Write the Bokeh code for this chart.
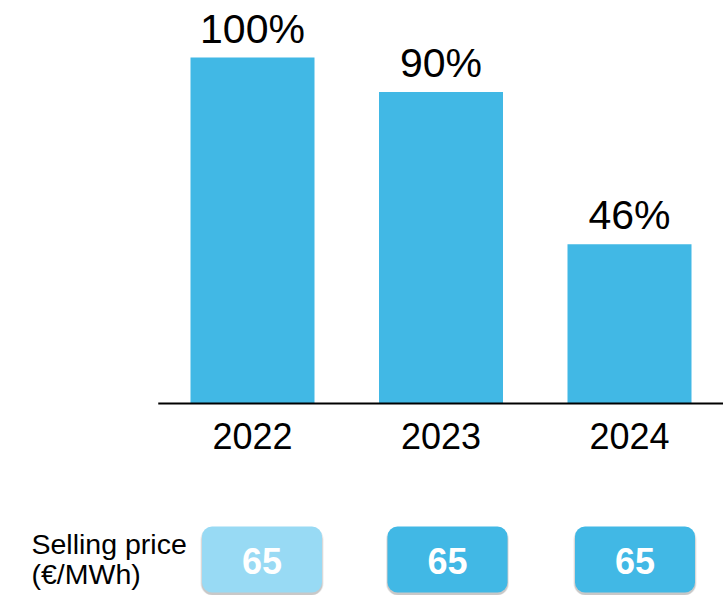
from bokeh.plotting import figure
from bokeh.models import Range1d
from bokeh.core.properties import value
from bokeh.embed import file_html
from bokeh.resources import INLINE

# ---- data ----
years = ["2022", "2023", "2024"]
shares = [100, 90, 46]
share_labels = ["100%", "90%", "46%"]
prices = [65, 65, 65]
price_caption = ["Selling price", "(€/MWh)"]

# ---- layout constants (figure pixels) ----
W, H = 723, 595
SLOT = 188.5          # pixels per category
FIRST_CENTER = 252.0  # pixel x of first category centre
BASE_Y = 403.0        # pixel y of the zero line
PX_PER_PCT = 3.46

x_start = 0.5 - FIRST_CENTER / SLOT
x_end = x_start + W / SLOT
y_top = BASE_Y / PX_PER_PCT
y_bottom = -(H - BASE_Y) / PX_PER_PCT

FONT = value("Liberation Sans")
BAR_COLOR = "#41b8e5"
BOX_COLORS = ["#98daf4", "#41b8e5", "#41b8e5"]
BOX_NUDGE = [9.5, 6.5, 5.5]   # px shift of each price box from its bar centre

p = figure(width=W, height=H, output_backend="svg", toolbar_location=None,
           x_range=Range1d(x_start, x_end), y_range=Range1d(y_bottom, y_top),
           min_border=0, min_border_left=0, min_border_right=0,
           min_border_top=0, min_border_bottom=0)
p.extra_x_ranges = {"px": Range1d(0, W)}
p.extra_y_ranges = {"px": Range1d(H, 0)}
p.axis.visible = False
p.grid.visible = False
p.outline_line_color = None
p.background_fill_color = "white"
p.border_fill_color = "white"

xs = [i + 0.5 for i in range(len(years))]

# bars
p.vbar(x=xs, top=shares, bottom=0, width=124 / SLOT, color=BAR_COLOR, line_color=None)

# baseline (x axis line), from the start of the first category slot
p.segment(x0=[0], x1=[x_end], y0=[0], y1=[0], line_color="black", line_width=2)

# value labels above bars
p.text(x=xs, y=shares, text=share_labels, y_offset=-29,
       text_align="center", text_baseline="alphabetic",
       text_font=FONT, text_font_size="41px", text_color="black")

# year labels
p.text(x=xs, y=[0] * len(years), text=years, y_offset=32,
       text_align="center", text_baseline="alphabetic",
       text_font=FONT, text_font_size="36px", text_color="black")

# price boxes (shadow + box)
box_x = [x + n / SLOT for x, n in zip(xs, BOX_NUDGE)]
BOX_CY = 559
BOX_W, BOX_H = 120, 66
p.rect(x=box_x, y=[BOX_CY + 2] * 3, width=BOX_W + 3, height=BOX_H + 2, width_units="screen",
       height_units="screen", y_range_name="px", fill_color="#8a8a8a", fill_alpha=0.18,
       line_color=None, border_radius=12)
p.rect(x=box_x, y=[BOX_CY + 2.5] * 3, width=BOX_W + 1, height=BOX_H, width_units="screen",
       height_units="screen", y_range_name="px", fill_color="#7a7a7a", fill_alpha=0.3,
       line_color=None, border_radius=11)
p.rect(x=box_x, y=[BOX_CY] * 3, width=BOX_W, height=BOX_H, width_units="screen",
       height_units="screen", y_range_name="px", fill_color=BOX_COLORS,
       line_color=None, border_radius=10)
p.text(x=box_x, y=[BOX_CY + 1.5] * 3, text=[str(v) for v in prices], y_range_name="px",
       text_align="center", text_baseline="alphabetic",
       text_font=FONT, text_font_size="36px", text_font_style="bold", text_color="white")

# caption
p.text(x=[31, 31], y=[543.5, 573.5], text=price_caption, x_range_name="px", y_range_name="px",
       text_align="left", text_baseline="alphabetic",
       text_font=FONT, text_font_size="28.5px", text_color="black")

open("out.html", "w").write(file_html(p, INLINE))
